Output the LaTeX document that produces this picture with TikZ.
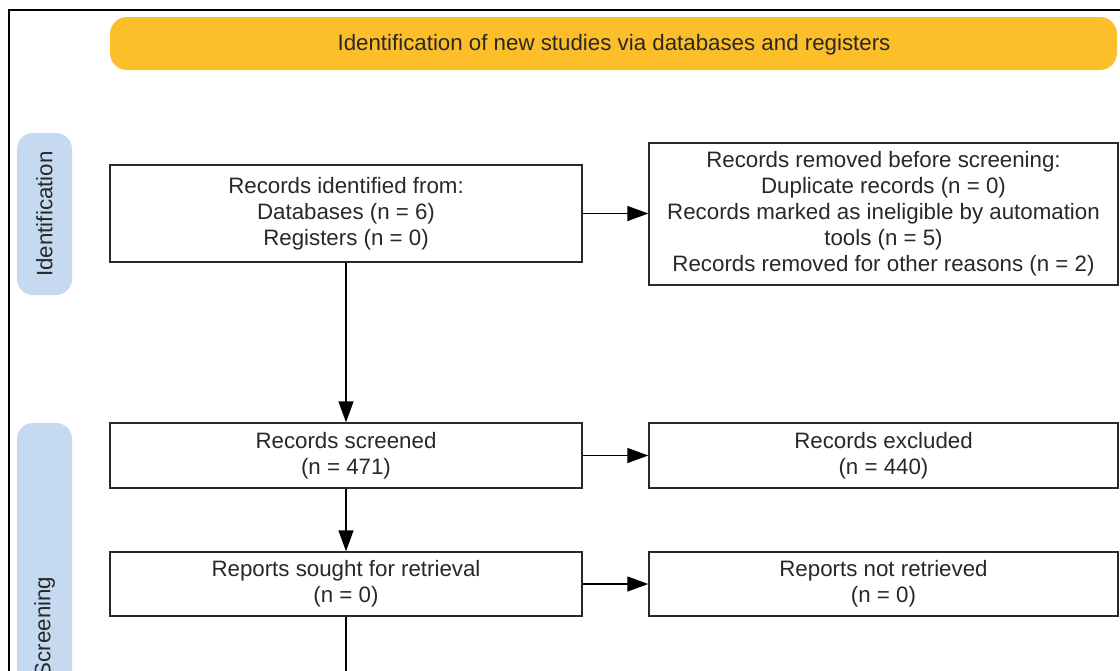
\documentclass[tikz,border=0pt]{standalone}
\usepackage{fontspec}
\setmainfont{Liberation Sans}
\usetikzlibrary{arrows.meta}
\definecolor{banner}{RGB}{253,191,41}
\definecolor{sidebar}{RGB}{197,217,241}
\definecolor{ink}{RGB}{40,40,40}
\tikzset{
  box/.style={draw=ink, line width=1.4pt, fill=white, inner sep=0pt, align=center, text=ink,
    font=\fontsize{22.3}{26}\selectfont},
  conn/.style={draw=black, line width=1.4pt, -{Triangle[length=21pt,width=15pt]}},
  plain/.style={draw=black, line width=1.4pt},
  bar/.style={fill=sidebar, rounded corners=16pt, draw=none},
  bartext/.style={rotate=90, text=ink, font=\fontsize{22.3}{26}\selectfont},
}
\begin{document}
\begin{tikzpicture}[x=1pt,y=-1pt]
\useasboundingbox (0,0) rectangle (1120,670);
\clip (0,0) rectangle (1120,670);
\fill[white] (0,0) rectangle (1120,670);
% outer frame
\draw[black, line width=2pt] (8.5,720) -- (8.5,10) -- (1140,10);
% banner
\fill[banner, rounded corners=17pt] (110,17) rectangle (1117,70);
\node[text=ink, font=\fontsize{22.3}{26}\selectfont] (bannertext) at (614,45) {Identification of new studies via databases and registers};
% side bars
\fill[bar] (17,133) rectangle (72,295);
\node[bartext] (idtext) at (44.5,214) {Identification};
\fill[bar] (17,423) rectangle (72,860);
\node[bartext] (scrtext) at (44.5,627) {Screening};
% boxes
\node[box, minimum width=472pt, minimum height=97pt] (ident) at (346,213.5)
  {\rule{0pt}{0pt}\raisebox{-1pt}{Records identified from:}\\\raisebox{-1pt}{Databases (n = 6)}\\\raisebox{-1pt}{Registers (n = 0)}};
\node[box, minimum width=469pt, minimum height=142pt] (removed) at (883.5,214)
  {\raisebox{-1pt}{Records removed before screening:}\\\raisebox{-1pt}{Duplicate records (n = 0)}\\\raisebox{-1pt}{Records marked as ineligible by automation}\\\raisebox{-1pt}{tools (n = 5)}\\\raisebox{-1pt}{Records removed for other reasons (n = 2)}};
\node[box, minimum width=472pt, minimum height=65pt] (screened) at (346,455.5)
  {\raisebox{-1pt}{Records screened}\\\raisebox{-1pt}{(n = 471)}};
\node[box, minimum width=469pt, minimum height=65pt] (excluded) at (883.5,455.5)
  {\raisebox{-1pt}{Records excluded}\\\raisebox{-1pt}{(n = 440)}};
\node[box, minimum width=472pt, minimum height=64pt] (sought) at (346,584)
  {\raisebox{-1pt}{Reports sought for retrieval}\\\raisebox{-1pt}{(n = 0)}};
\node[box, minimum width=469pt, minimum height=64pt] (notret) at (883.5,584)
  {\raisebox{-1pt}{Reports not retrieved}\\\raisebox{-1pt}{(n = 0)}};
\coordinate (down) at (346,720);
% connectors
\draw[conn] (ident.east) -- (removed.west |- ident.east);
\draw[conn] (ident.south) -- (screened.north);
\draw[conn] (screened.east) -- (excluded.west);
\draw[conn] (screened.south) -- (sought.north);
\draw[conn] (sought.east) -- (notret.west);
\draw[plain] (sought.south) -- (down);
\end{tikzpicture}
\end{document}
